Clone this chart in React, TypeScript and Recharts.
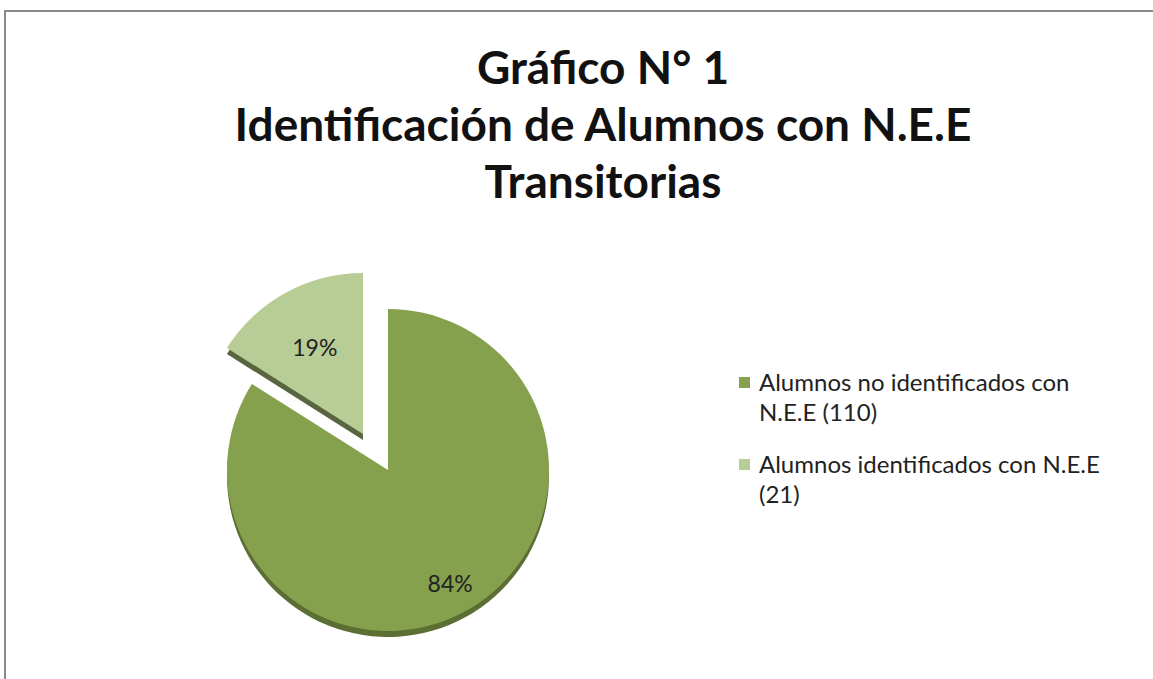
import React from 'react';
import { Cell, Legend, Pie, PieChart } from 'recharts';

const categories = ['Alumnos no identificados con N.E.E (110)', 'Alumnos identificados con N.E.E (21)'];
const counts = [110, 21];
const pctLabels = ['84%', '19%'];

const COLORS = ['#86A14E', '#B8CC96'];
const EDGE = ['#5B6E34', '#58653F'];
const LABEL_R = [0.8, 0.62];
const FONT = 'Lato, "Open Sans", sans-serif';

const data = categories.map((name, i) => ({ name, value: counts[i], pct: pctLabels[i] }));

// chart margin adds 5px to cx / cy
const CX = 383;
const CY = 465;
const R = 161;
// exploded slice offset
const EX = -25;
const EY = -36;
const DEPTH = 6;

const RAD = Math.PI / 180;

function sliceLabel(index: number) {
  return (props: any) => {
    if (props.index !== index) return null;
    const r = props.outerRadius * LABEL_R[index];
    const x = props.cx + r * Math.cos(-props.midAngle * RAD);
    const y = props.cy + r * Math.sin(-props.midAngle * RAD);
    return (
      <text x={x} y={y} textAnchor="middle" dominantBaseline="central" fontSize={23} fontFamily={FONT} fill="#222">
        {props.payload.pct}
      </text>
    );
  };
}

function LegendBox(props: any) {
  const seen = new Set<string>();
  const items = ((props.payload || []) as any[]).filter((e) => {
    if (!categories.includes(e.value) || seen.has(e.value)) return false;
    seen.add(e.value);
    return true;
  });
  items.sort((a, b) => categories.indexOf(a.value) - categories.indexOf(b.value));
  return (
    <div style={{ fontFamily: FONT, fontSize: 24, lineHeight: '30px', color: '#222' }}>
      {items.map((e) => {
        const i = categories.indexOf(e.value);
        return (
          <div key={e.value} style={{ display: 'flex', alignItems: 'flex-start', marginBottom: 22 }}>
            <span style={{ width: 11, height: 11, background: COLORS[i], marginTop: 10, marginRight: 9, flex: 'none' }} />
            <span style={{ width: 362 }}>{e.value}</span>
          </div>
        );
      })}
    </div>
  );
}

export default function App() {
  const pieProps = {
    data,
    dataKey: 'value',
    nameKey: 'name',
    startAngle: 90,
    endAngle: -270,
    outerRadius: R,
    stroke: 'none',
    isAnimationActive: false,
  };
  return (
    <div style={{ position: 'absolute', left: 0, top: 0, width: 1153, height: 679, overflow: 'hidden', background: '#fff' }}>
      <div
        style={{ position: 'absolute', left: 4, top: 10, width: 1200, height: 720, border: '2px solid #8A8A8A', boxSizing: 'border-box' }}
      />
      <div
        style={{
          position: 'absolute',
          left: 0,
          top: 38,
          width: 1206,
          textAlign: 'center',
          fontFamily: FONT,
          fontWeight: 700,
          fontSize: 46,
          lineHeight: '57px',
          color: '#111',
        }}
      >
        <div>Gráfico N° 1</div>
        <div>Identificación de Alumnos con N.E.E</div>
        <div>Transitorias</div>
      </div>
      <div style={{ position: 'absolute', left: 0, top: 0 }}>
        <PieChart width={1153} height={679}>
          {/* depth of the pie */}
          <Pie {...pieProps} cx={CX} cy={CY + DEPTH} legendType="none">
            {data.map((d, i) => (
              <Cell key={d.name} fill={EDGE[0]} fillOpacity={i === 0 ? 1 : 0} />
            ))}
          </Pie>
          <Pie {...pieProps} cx={CX + EX} cy={CY + EY + DEPTH} legendType="none">
            {data.map((d, i) => (
              <Cell key={d.name} fill={EDGE[1]} fillOpacity={i === 1 ? 1 : 0} />
            ))}
          </Pie>
          {/* faces */}
          <Pie {...pieProps} cx={CX} cy={CY} label={sliceLabel(0)} labelLine={false}>
            {data.map((d, i) => (
              <Cell key={d.name} fill={COLORS[i]} fillOpacity={i === 0 ? 1 : 0} />
            ))}
          </Pie>
          <Pie {...pieProps} cx={CX + EX} cy={CY + EY} label={sliceLabel(1)} labelLine={false} legendType="none">
            {data.map((d, i) => (
              <Cell key={d.name} fill={COLORS[i]} fillOpacity={i === 1 ? 1 : 0} />
            ))}
          </Pie>
          <Legend
            layout="vertical"
            content={LegendBox}
            wrapperStyle={{ position: 'absolute', left: 739, top: 367, width: 400 }}
          />
        </PieChart>
      </div>
    </div>
  );
}
